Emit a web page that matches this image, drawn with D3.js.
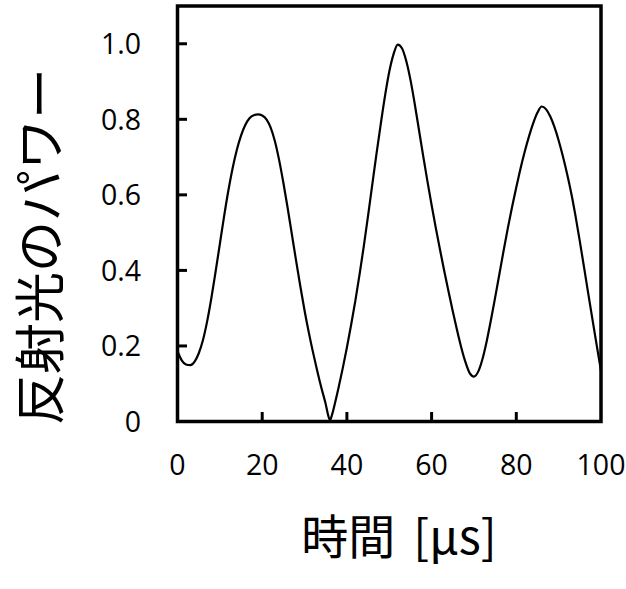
<!DOCTYPE html>
<html>
<head>
<meta charset="utf-8">
<script src="https://cdn.jsdelivr.net/npm/d3@7"></script>
<style>
  html, body { margin: 0; padding: 0; background: #fff; }
  svg { display: block; }
</style>
</head>
<body>
<svg id="chart" width="626" height="589"></svg>
<script>
// ---- data ----
const timeUs = [0,1,2,3,4,5,6,7,8,9,10,11,12,13,14,15,16,17,18,19,20,21,22,23,24,25,26,27,28,29,30,31,32,33,34,35,35.5,36,36.5,37,38,39,40,41,42,43,44,45,46,47,48,49,50,51,52,53,54,55,56,57,58,59,60,61,62,63,64,65,66,67,68,69,70,71,72,73,74,75,76,77,78,79,80,81,82,83,84,85,86,87,88,89,90,91,92,93,94,95,96,97,98,99,100];
const power = [
  0.186,0.162,0.151,0.149,0.158,0.180,0.215,0.265,0.327,0.397,
  0.470,0.543,0.611,0.670,0.719,0.757,0.785,0.803,0.811,0.813,
  0.810,0.800,0.778,0.742,0.692,0.632,0.566,0.496,0.426,0.358,
  0.294,0.236,0.183,0.134,0.088,0.046,0.020,0.004,0.018,0.040,0.088,0.140,
  0.196,0.256,0.320,0.390,0.465,0.545,0.628,0.710,0.788,0.862,
  0.926,0.972,0.998,0.988,0.955,0.905,0.842,0.773,0.704,0.637,
  0.573,0.512,0.454,0.398,0.344,0.292,0.242,0.196,0.157,0.128,
  0.119,0.132,0.165,0.212,0.268,0.328,0.390,0.452,0.512,0.568,
  0.620,0.670,0.715,0.755,0.790,0.818,0.834,0.827,0.808,0.780,
  0.744,0.702,0.655,0.603,0.543,0.477,0.408,0.338,0.269,0.201,
  0.134
];
const xTicks = [0, 20, 40, 60, 80, 100];
const yTicks = [0, 0.2, 0.4, 0.6, 0.8, 1.0];
const yTickLabels = ["0", "0.2", "0.4", "0.6", "0.8", "1.0"];
const xTitleMain = "時間";
const xTitleUnit = "[µs]";
const yTitle = "反射光のパワー";

// ---- layout ----
const svg = d3.select("#chart");
const L = 177.5, R = 601, T = 6, B = 421.5;
const x = d3.scaleLinear().domain([0, 100]).range([L, R]);
const y = d3.scaleLinear().domain([0, 1.1]).range([B, T]);
const numFont = "'Open Sans', 'DejaVu Sans', sans-serif";
const cjkFont = "'Noto Sans CJK JP', 'Noto Sans CJK SC', sans-serif";

// curve
const line = d3.line()
  .x((d, i) => x(timeUs[i]))
  .y(d => y(d))
  .curve(d3.curveMonotoneX);
svg.append("path")
  .datum(power)
  .attr("d", line)
  .attr("fill", "none")
  .attr("stroke", "#000")
  .attr("stroke-width", 2.2);

// inner ticks
const tickLen = 9.5;
svg.append("g").selectAll("line")
  .data(yTicks.filter(v => v > 0))
  .join("line")
  .attr("x1", L).attr("x2", L + tickLen)
  .attr("y1", d => y(d)).attr("y2", d => y(d))
  .attr("stroke", "#000").attr("stroke-width", 3);
svg.append("g").selectAll("line")
  .data(xTicks.filter(v => v > 0 && v < 100))
  .join("line")
  .attr("x1", d => x(d)).attr("x2", d => x(d))
  .attr("y1", B).attr("y2", B - tickLen)
  .attr("stroke", "#000").attr("stroke-width", 3);

// frame
svg.append("rect")
  .attr("x", L).attr("y", T)
  .attr("width", R - L).attr("height", B - T)
  .attr("fill", "none")
  .attr("stroke", "#000")
  .attr("stroke-width", 3.5);

// tick labels
svg.append("g").selectAll("text")
  .data(xTicks)
  .join("text")
  .attr("x", d => x(d))
  .attr("y", 475)
  .attr("text-anchor", "middle")
  .attr("font-family", numFont)
  .attr("font-size", 28.5)
  .attr("fill", "#000")
  .text(d => String(d));
svg.append("g").selectAll("text")
  .data(yTicks)
  .join("text")
  .attr("x", 141)
  .attr("y", d => y(d) + 10.5)
  .attr("text-anchor", "end")
  .attr("font-family", numFont)
  .attr("font-size", 28.5)
  .attr("fill", "#000")
  .text((d, i) => yTickLabels[i]);

// axis titles
const xt = svg.append("text")
  .attr("x", 399)
  .attr("y", 554)
  .attr("text-anchor", "middle")
  .attr("font-family", cjkFont)
  .attr("font-size", 47)
  .attr("fill", "#000");
xt.append("tspan").text(xTitleMain);
xt.append("tspan").attr("dx", 18).text(xTitleUnit);

svg.append("text")
  .attr("transform", "translate(59,246.5) rotate(-90)")
  .attr("text-anchor", "middle")
  .attr("font-family", cjkFont)
  .attr("font-size", 51)
  .attr("fill", "#000")
  .text(yTitle);
</script>
</body>
</html>
